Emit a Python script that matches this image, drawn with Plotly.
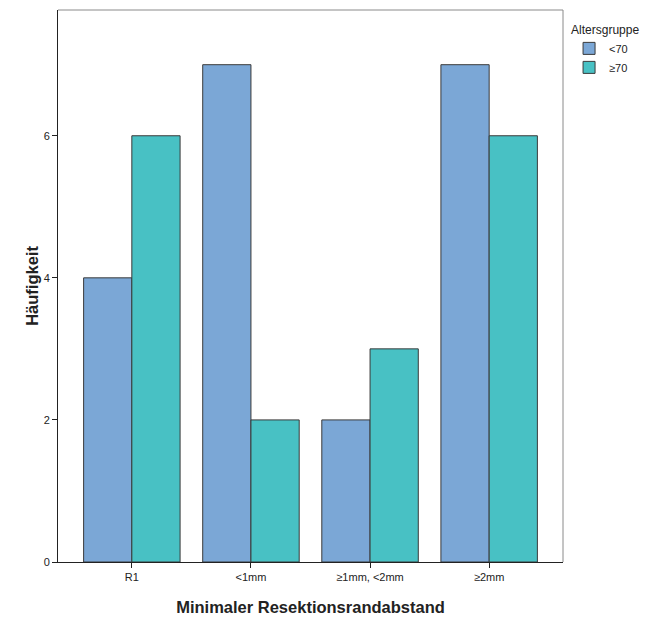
import plotly.graph_objects as go

categories = ["R1", "<1mm", "≥1mm, <2mm", "≥2mm"]
under70 = [4, 7, 2, 7]
over70 = [6, 2, 3, 6]
series_names = ["<70", "≥70"]

fig = go.Figure()
fig.add_trace(go.Bar(x=categories, y=under70, name=series_names[0],
                     marker=dict(color="#7BA7D6", line=dict(color="#3a3a3a", width=1))))
fig.add_trace(go.Bar(x=categories, y=over70, name=series_names[1],
                     marker=dict(color="#48C1C4", line=dict(color="#3a3a3a", width=1))))

# page body adds an 8px offset, so the figure is sized to fit the window
fig.update_layout(
    width=655, height=613,
    margin=dict(l=50, r=100, t=2, b=59, autoexpand=False),
    paper_bgcolor="white", plot_bgcolor="white",
    barmode="group", bargap=0.19, bargroupgap=0,
    font=dict(family="Liberation Sans, Arial", color="#222"),
    legend=dict(title=dict(text="Altersgruppe", font=dict(size=12)),
                x=1.012, xanchor="left", y=0.985, yanchor="top",
                bgcolor="rgba(0,0,0,0)",
                font=dict(size=11), tracegroupgap=0),
    showlegend=True,
    shapes=[
        dict(type="line", xref="paper", yref="paper", x0=0, x1=1, y0=1, y1=1,
             line=dict(color="#8a8a8a", width=1)),
        dict(type="line", xref="paper", yref="paper", x0=1, x1=1, y0=0, y1=1,
             line=dict(color="#8a8a8a", width=1)),
    ],
)
fig.update_xaxes(type="category", range=[-0.62, 3.62], showline=True, linecolor="#222", linewidth=1,
                 ticks="outside", ticklen=5, tickcolor="#222", automargin=False,
                 tickfont=dict(size=11), showgrid=False,
                 title=dict(text="<b>Minimaler Resektionsrandabstand</b>", font=dict(size=16.5), standoff=19))
fig.update_yaxes(range=[0, 7.77], tickvals=[0, 2, 4, 6], showline=True, linecolor="#222", linewidth=1,
                 ticks="outside", ticklen=5, tickcolor="#222", automargin=False,
                 tickfont=dict(size=11), showgrid=False, zeroline=False,
                 title=dict(text="<b>Häufigkeit</b>", font=dict(size=16.5), standoff=0))

fig.write_html("out.html")
